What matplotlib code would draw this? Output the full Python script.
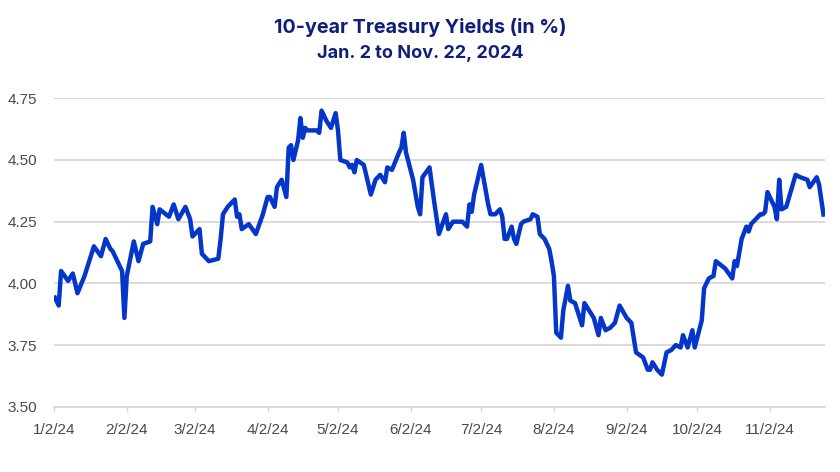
import numpy as np
import pandas as pd
import matplotlib
matplotlib.use("Agg")
import matplotlib.pyplot as plt

# 10-year treasury yield (dates, %)
dates = [
    "2024-01-02", "2024-01-04", "2024-01-05", "2024-01-08", "2024-01-10", "2024-01-12",
    "2024-01-15", "2024-01-19", "2024-01-22", "2024-01-24", "2024-01-26", "2024-01-27",
    "2024-01-30", "2024-01-31", "2024-02-01", "2024-02-02", "2024-02-05", "2024-02-07",
    "2024-02-09", "2024-02-12", "2024-02-13", "2024-02-15", "2024-02-16", "2024-02-20",
    "2024-02-22", "2024-02-24", "2024-02-27", "2024-02-29", "2024-03-01", "2024-03-04",
    "2024-03-05", "2024-03-08", "2024-03-12", "2024-03-13", "2024-03-14", "2024-03-16",
    "2024-03-19", "2024-03-20", "2024-03-21", "2024-03-22", "2024-03-25", "2024-03-28",
    "2024-03-31", "2024-04-02", "2024-04-03", "2024-04-05", "2024-04-06", "2024-04-08",
    "2024-04-10", "2024-04-11", "2024-04-12", "2024-04-13", "2024-04-15", "2024-04-16",
    "2024-04-17", "2024-04-18", "2024-04-19", "2024-04-23", "2024-04-24", "2024-04-25",
    "2024-04-27", "2024-04-29", "2024-05-01", "2024-05-02", "2024-05-03", "2024-05-06",
    "2024-05-07", "2024-05-08", "2024-05-09", "2024-05-10", "2024-05-13", "2024-05-14",
    "2024-05-16", "2024-05-18", "2024-05-20", "2024-05-22", "2024-05-23", "2024-05-25",
    "2024-05-28", "2024-05-29", "2024-05-30", "2024-05-31", "2024-06-03", "2024-06-05",
    "2024-06-06", "2024-06-07", "2024-06-10", "2024-06-12", "2024-06-14", "2024-06-17",
    "2024-06-18", "2024-06-20", "2024-06-24", "2024-06-26", "2024-06-27", "2024-06-28",
    "2024-06-29", "2024-07-02", "2024-07-05", "2024-07-06", "2024-07-08", "2024-07-10",
    "2024-07-11", "2024-07-12", "2024-07-13", "2024-07-15", "2024-07-16", "2024-07-17",
    "2024-07-19", "2024-07-20", "2024-07-23", "2024-07-24", "2024-07-26", "2024-07-27",
    "2024-07-29", "2024-07-31", "2024-08-01", "2024-08-02", "2024-08-03", "2024-08-05",
    "2024-08-06", "2024-08-08", "2024-08-09", "2024-08-11", "2024-08-12", "2024-08-14",
    "2024-08-15", "2024-08-17", "2024-08-19", "2024-08-21", "2024-08-22", "2024-08-24",
    "2024-08-26", "2024-08-28", "2024-08-30", "2024-09-02", "2024-09-04", "2024-09-06",
    "2024-09-09", "2024-09-11", "2024-09-12", "2024-09-13", "2024-09-15", "2024-09-17",
    "2024-09-19", "2024-09-21", "2024-09-23", "2024-09-25", "2024-09-26", "2024-09-28",
    "2024-09-30", "2024-10-01", "2024-10-04", "2024-10-05", "2024-10-07", "2024-10-09",
    "2024-10-10", "2024-10-14", "2024-10-17", "2024-10-18", "2024-10-19", "2024-10-21",
    "2024-10-23", "2024-10-24", "2024-10-25", "2024-10-27", "2024-10-29", "2024-10-30",
    "2024-10-31", "2024-11-01", "2024-11-04", "2024-11-05", "2024-11-06", "2024-11-07",
    "2024-11-09", "2024-11-13", "2024-11-15", "2024-11-18", "2024-11-19", "2024-11-22",
    "2024-11-23", "2024-11-25",
]
yields = [
    3.95, 3.91, 4.05, 4.01, 4.04, 3.96,
    4.03, 4.15, 4.11, 4.18, 4.14, 4.13,
    4.07, 4.05, 3.86, 4.03, 4.17, 4.09,
    4.16, 4.17, 4.31, 4.24, 4.30, 4.27,
    4.32, 4.26, 4.31, 4.26, 4.19, 4.22,
    4.12, 4.09, 4.10, 4.18, 4.28, 4.31,
    4.34, 4.27, 4.28, 4.22, 4.24, 4.20,
    4.28, 4.35, 4.35, 4.31, 4.39, 4.42,
    4.35, 4.55, 4.56, 4.50, 4.58, 4.67,
    4.59, 4.63, 4.62, 4.62, 4.61, 4.70,
    4.66, 4.63, 4.69, 4.62, 4.50, 4.49,
    4.47, 4.48, 4.45, 4.50, 4.48, 4.44,
    4.36, 4.42, 4.44, 4.41, 4.47, 4.46,
    4.53, 4.55, 4.61, 4.53, 4.42, 4.31,
    4.28, 4.43, 4.47, 4.33, 4.20, 4.28,
    4.22, 4.25, 4.25, 4.23, 4.32, 4.29,
    4.36, 4.48, 4.32, 4.28, 4.28, 4.30,
    4.27, 4.18, 4.18, 4.23, 4.18, 4.16,
    4.24, 4.25, 4.26, 4.28, 4.27, 4.20,
    4.18, 4.14, 4.09, 4.03, 3.80, 3.78,
    3.89, 3.99, 3.93, 3.92, 3.89, 3.83,
    3.92, 3.89, 3.86, 3.79, 3.86, 3.81,
    3.82, 3.84, 3.91, 3.86, 3.84, 3.72,
    3.70, 3.65, 3.65, 3.68, 3.65, 3.63,
    3.72, 3.73, 3.75, 3.74, 3.79, 3.74,
    3.81, 3.74, 3.85, 3.98, 4.02, 4.03,
    4.09, 4.06, 4.02, 4.09, 4.07, 4.18,
    4.23, 4.21, 4.24, 4.26, 4.28, 4.28,
    4.29, 4.37, 4.31, 4.26, 4.42, 4.30,
    4.31, 4.44, 4.43, 4.42, 4.39, 4.43,
    4.40, 4.27,
]

tick_dates = ["2024-01-02", "2024-02-02", "2024-03-02", "2024-04-02", "2024-05-02", "2024-06-02",
              "2024-07-02", "2024-08-02", "2024-09-02", "2024-10-02", "2024-11-02"]
tick_labels = ["1/2/24", "2/2/24", "3/2/24", "4/2/24", "5/2/24", "6/2/24",
               "7/2/24", "8/2/24", "9/2/24", "10/2/24", "11/2/24"]
y_ticks = [3.50, 3.75, 4.00, 4.25, 4.50, 4.75]

navy = "#0f1f78"
blue = "#0437c9"
grey_text = "#4a4a4a"
grid_col = "#d9d9d9"

x = pd.to_datetime(dates)

fig = plt.figure(figsize=(8.4, 4.72), dpi=100)
ax = fig.add_axes([0.0643, 0.1383, 0.9178, 0.6534])

ax.plot(x, yields, color=blue, lw=3.2, solid_joinstyle="round", solid_capstyle="butt", zorder=3)

ax.set_ylim(3.5, 4.75)
ax.set_xlim(pd.Timestamp("2024-01-02"), pd.Timestamp("2024-11-25 12:00"))

ax.set_yticks(y_ticks)
ax.set_yticklabels([f"{v:.2f}" for v in y_ticks])
ax.set_xticks(pd.to_datetime(tick_dates))
ax.set_xticklabels(tick_labels)

ax.grid(axis="y", color=grid_col, lw=1.3, zorder=0)
ax.set_axisbelow(True)
for s in ["top", "right", "left"]:
    ax.spines[s].set_visible(False)
ax.spines["bottom"].set_color(grid_col)
ax.spines["bottom"].set_linewidth(1.3)

ax.tick_params(axis="y", length=0, pad=12, labelsize=11, labelcolor=grey_text)
ax.tick_params(axis="x", length=3.5, width=1, color=grid_col, pad=8, labelsize=11,
               labelcolor=grey_text)
for lab in ax.get_xticklabels() + ax.get_yticklabels():
    lab.set_family("Liberation Sans")

fig.text(0.5, 0.941, "10-year Treasury Yields (in %)", ha="center", va="center",
         fontsize=14.2, fontweight="bold", color=navy, family="Inter")
fig.text(0.5, 0.887, "Jan. 2 to Nov. 22, 2024", ha="center", va="center",
         fontsize=13, fontweight="bold", color=navy, family="Inter")

fig.savefig("out.png", dpi=100, facecolor="white")
